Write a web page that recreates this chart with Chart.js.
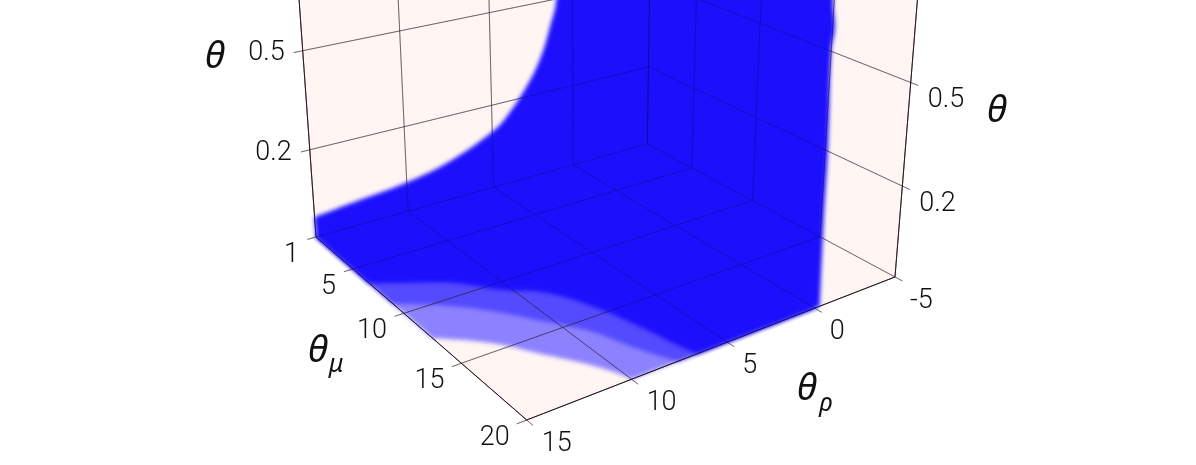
<!DOCTYPE html>
<html>
<head>
<meta charset="utf-8">
<style>
  html, body { margin: 0; background: #fff; overflow: hidden; }
  canvas { display: block; }
</style>
<script src="https://cdn.jsdelivr.net/npm/chart.js@4/dist/chart.umd.js"></script>
</head>
<body>
<canvas id="grafico" width="1196" height="465"></canvas>
<script>
// ticks of the three axes
const muTicks = [1, 5, 10, 15, 20];
const muLabels = ['1', '5', '10', '15', '20'];
const rhoTicks = [15, 10, 5, 0, -5];
const rhoLabels = ['15', '10', '5', '0', '-5'];
const thetaTicks = [0.24, 0.5];
const thetaLabels = ['0.2', '0.5'];

// boundary of the volume on the theta_mu = 1 wall
const wallRho = [15, 12.6, 9.9, 7.4, 4.94, 4.11, 2.76, 1.94, 1.4, 1.0, 0.75, 0.6];
const wallTheta = [0.056, 0.069, 0.0835, 0.1126, 0.165, 0.197, 0.2784, 0.35, 0.4256, 0.497, 0.7, 0.9];

// boundary of the volume on the theta_mu = 20 side
const edgeRho = [-0.3, -0.22, -0.21, -0.06, -0.19, 0, 0.05];
const edgeTheta = [0, 0.23, 0.41, 0.63, 0.68, 0.74, 0.9];

// floor curves, from the theta_mu = 20 edge back to the theta_rho = 15 edge
const solidMu = [20, 19.14, 17.24, 14.46, 12.06, 10.7, 8.83, 7.53, 6.67];
const solidRho = [6.63, 6.85, 7.18, 7.85, 8.91, 10.37, 11.88, 13.74, 15];
const midMu = [20, 19.39, 18.03, 16.05, 14.83, 13.83, 12.47, 11.26, 10.19, 8.96];
const midRho = [7.63, 7.94, 8.49, 9.15, 9.88, 10.56, 11.45, 12.41, 13.46, 15];
const lightMu = [20, 19.28, 17.86, 16.11, 14.76, 13.44, 12.56];
const lightRho = [10, 10.21, 10.91, 12.03, 12.85, 14.02, 15];

const muMin = 1, muMax = 20, rhoNear = 15, rhoFar = -5, thetaTop = 1;
const tickOut = 0.45; // how far the grid lines stick out of the box

// camera of the 3d box, maps axis values to the picture
function proj(mu, rho, theta) {
  const u = (mu - muMin) / (muMax - muMin);
  const v = (rhoNear - rho) / (rhoNear - rhoFar);
  const w = -0.20504 * u + 0.15549 * v - 0.0929 * theta + 1;
  return {
    x: (102.7 * u + 431.95 * v - 54.7 * theta + 316) / w,
    y: (96.88 * u - 70.61 * v - 377.3 * theta + 237) / w
  };
}

// a point given twice keeps the spline sharp at that corner
const corner = p => [p, p];

function floorCurve(mus, rhos) {
  const pts = mus.map((m, i) => proj(m, rhos[i], 0));
  return [pts[0], ...pts, pts[pts.length - 1]];
}

function area(data, color, soft) {
  return {
    data, soft, showLine: true, fill: 'shape', backgroundColor: color,
    borderWidth: 0, borderColor: 'transparent', pointRadius: 0,
    tension: soft ? 0.4 : 0, capBezierPoints: false
  };
}

function line(data, color) {
  return {
    data, showLine: true, fill: false, borderColor: color,
    borderWidth: 1, pointRadius: 0
  };
}

function gridLines(color) {
  const out = [];
  muTicks.forEach(m => out.push(line([proj(m, rhoNear + tickOut, 0), proj(m, rhoFar, 0)], color)));
  rhoTicks.forEach(r => out.push(line([proj(muMin, r, 0), proj(muMax + tickOut, r, 0)], color)));
  rhoTicks.forEach(r => out.push(line([proj(muMin, r, 0), proj(muMin, r, thetaTop)], color)));
  muTicks.forEach(m => out.push(line([proj(m, rhoFar, 0), proj(m, rhoFar, thetaTop)], color)));
  thetaTicks.forEach(t => out.push(line([proj(muMin, rhoNear + tickOut, t), proj(muMin, rhoFar, t), proj(muMax + tickOut, rhoFar, t)], color)));
  return out;
}

const pink = '#fff5f3';
const blue = 'rgb(28,16,252)';
const midBlue = 'rgb(84,74,255)';
const lightBlue = 'rgb(140,130,255)';
const edgeColor = 'rgba(40,10,20,0.85)';

const backCorner = proj(1, 0, 0);
const datasets = [
  // walls and floor of the box
  area([proj(1, 15, 0), proj(1, 15, thetaTop), proj(1, -5, thetaTop), proj(1, -5, 0)], pink),
  area([proj(1, -5, 0), proj(1, -5, thetaTop), proj(20, -5, thetaTop), proj(20, -5, 0)], pink),
  area([proj(1, 15, 0), proj(20, 15, 0), proj(20, -5, 0), proj(1, -5, 0)], pink),

  // lighter shades of the volume on the floor
  area([...corner(proj(1, 15, 0)), ...floorCurve([...lightMu].reverse(), [...lightRho].reverse()), ...corner(proj(20, 0, 0)), ...corner(backCorner)], lightBlue, true),
  area([...corner(proj(1, 15, 0)), ...floorCurve([...midMu].reverse(), [...midRho].reverse()), ...corner(proj(20, 0, 0)), ...corner(backCorner)], midBlue, true),

  ...gridLines('rgba(60,50,50,0.55)'),

  // box edges
  line([proj(muMin, rhoNear, thetaTop), proj(muMin, rhoNear, 0), proj(muMax, rhoNear, 0), proj(muMax, rhoFar, 0), proj(muMax, rhoFar, thetaTop)], edgeColor),

  // the solid part of the volume
  area([
    ...corner(proj(1, 15, 0)),
    proj(1, wallRho[0], wallTheta[0]),
    ...wallRho.map((r, i) => proj(1, r, wallTheta[i])),
    ...corner(proj(1, wallRho[wallRho.length - 1], edgeTheta[edgeTheta.length - 1])),
    ...edgeRho.map((r, i) => proj(20, r, edgeTheta[i])).reverse(),
    proj(20, edgeRho[0], edgeTheta[0]),
    ...floorCurve(solidMu, solidRho)
  ], blue, true),

  // grid seen through the volume
  ...gridLines('rgba(0,0,40,0.25)')
];

// chart.js paints the first dataset on top
datasets.reverse();

const softEdges = {
  id: 'softEdges',
  beforeDatasetDraw(chart, args) {
    if (!chart.data.datasets[args.index].soft) return;
    chart.ctx.save();
    chart.ctx.filter = 'blur(2px)';
  },
  afterDatasetDraw(chart, args) {
    if (chart.data.datasets[args.index].soft) chart.ctx.restore();
  }
};

// filler has to come after softEdges so the blur is already set when it paints
Chart.unregister(Chart.Filler);
Chart.register(softEdges, Chart.Filler);

const numberFont = '300 27px Roboto';
const symbolFont = 'italic 37px "Noto Sans"';
const subFont = 'italic 25px "Noto Sans"';

function writeText(ctx, txt, x, y, font, align) {
  ctx.font = font;
  ctx.textAlign = align;
  ctx.textBaseline = 'middle';
  ctx.fillStyle = '#111';
  ctx.fillText(txt, x, y);
}

const axisText = {
  id: 'axisText',
  afterDatasetsDraw(chart) {
    const { ctx, scales } = chart;
    const at = (p, dx, dy) => [scales.x.getPixelForValue(p.x) + dx, scales.y.getPixelForValue(p.y) + dy];
    ctx.save();
    muTicks.forEach((m, i) => {
      const [x, y] = at(proj(m, rhoNear, 0), -17, 18);
      writeText(ctx, muLabels[i], x, y, numberFont, 'right');
    });
    rhoTicks.forEach((r, i) => {
      const [x, y] = at(proj(muMax, r, 0), 15, 24);
      writeText(ctx, rhoLabels[i], x, y, numberFont, 'left');
    });
    thetaTicks.forEach((t, i) => {
      let [x, y] = at(proj(muMin, rhoNear, t), -18, 3);
      writeText(ctx, thetaLabels[i], x, y, numberFont, 'right');
      [x, y] = at(proj(muMax, rhoFar, t), 17, 18);
      writeText(ctx, thetaLabels[i], x, y, numberFont, 'left');
    });
    writeText(ctx, 'θ', 215, 57, symbolFont, 'center');
    writeText(ctx, 'θ', 997, 111, symbolFont, 'center');
    writeText(ctx, 'θ', 318, 351, symbolFont, 'center');
    writeText(ctx, 'μ', 336, 365, subFont, 'center');
    writeText(ctx, 'θ', 807, 389, symbolFont, 'center');
    writeText(ctx, 'ρ', 826, 404, subFont, 'center');
    ctx.restore();
  }
};

new Chart(document.getElementById('grafico').getContext('2d'), {
  type: 'scatter',
  data: { datasets },
  options: {
    responsive: false,
    animation: false,
    layout: { padding: 0 },
    plugins: { legend: { display: false }, tooltip: { enabled: false } },
    scales: {
      x: { type: 'linear', display: false, min: 0, max: 1196 },
      y: { type: 'linear', display: false, min: 0, max: 465, reverse: true }
    }
  },
  plugins: [axisText]
});
</script>
</body>
</html>
